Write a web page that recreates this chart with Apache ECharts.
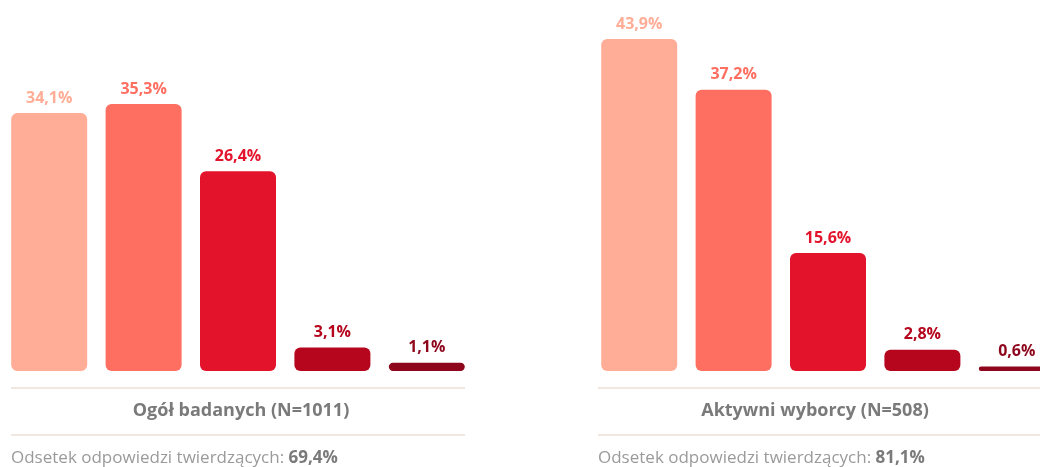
<!DOCTYPE html>
<html>
<head>
<meta charset="utf-8">
<script src="https://cdn.jsdelivr.net/npm/echarts@6/dist/echarts.min.js"></script>
<style>
  html, body { margin: 0; padding: 0; background: #ffffff; }
  #chart { width: 1040px; height: 467px; }
</style>
</head>
<body>
<div id="chart"></div>
<script>
// Answer scale (five steps), shared by both groups
const categories = ['k1', 'k2', 'k3', 'k4', 'k5'];
const overallValues = [34.1, 35.3, 26.4, 3.1, 1.1];
const activeValues = [43.9, 37.2, 15.6, 2.8, 0.6];
const barColors = ['#FFAD96', '#FF6F61', '#E3132B', '#B5061E', '#8E061C'];
const groupTitles = ['Ogół badanych (N=1011)', 'Aktywni wyborcy (N=508)'];
const footerLabel = 'Odsetek odpowiedzi twierdzących: ';
const footerValues = ['69,4%', '81,1%'];

const FONT = '"Open Sans", "Noto Sans", sans-serif';
const fmt = v => v.toFixed(1).replace('.', ',') + '%';

function seriesData(values) {
  return values.map((v, i) => ({
    value: v,
    itemStyle: { color: barColors[i] },
    label: { color: barColors[i] }
  }));
}

function barSeries(values, idx) {
  return {
    type: 'bar',
    xAxisIndex: idx,
    yAxisIndex: idx,
    barWidth: 76,
    data: seriesData(values),
    itemStyle: { borderRadius: 6 },
    label: {
      show: true,
      position: 'top',
      distance: 7,
      fontFamily: FONT,
      fontWeight: 'bold',
      fontSize: 16,
      formatter: p => fmt(p.value)
    },
    silent: true
  };
}

// The second panel runs past the right edge of the canvas
const grids = [
  { left: 2, width: 472, top: 8, height: 363, outerBoundsMode: 'none', containLabel: false },
  { left: 592, width: 472, top: 8, height: 363, outerBoundsMode: 'none', containLabel: false }
];

const xAxes = grids.map((g, i) => ({
  type: 'category',
  gridIndex: i,
  data: categories,
  axisLine: { show: false },
  axisTick: { show: false },
  axisLabel: { show: false }
}));

const yAxes = grids.map((g, i) => ({
  type: 'value',
  gridIndex: i,
  min: 0,
  max: 48,
  show: false,
  splitLine: { show: false }
}));

// Separator lines and captions under each panel
const panels = [
  { lineX1: 11, lineX2: 465, titleX: 241, footX: 11, footVal: footerValues[0], title: groupTitles[0] },
  { lineX1: 598, lineX2: 1040, titleX: 815, footX: 598, footVal: footerValues[1], title: groupTitles[1] }
];

const graphics = [];
panels.forEach(p => {
  [388, 435].forEach(y => {
    graphics.push({
      type: 'line',
      shape: { x1: p.lineX1, y1: y, x2: p.lineX2, y2: y },
      style: { stroke: '#EADFD6', lineWidth: 1.5 }
    });
  });
  graphics.push({
    type: 'text',
    x: p.titleX,
    y: 411,
    style: {
      text: p.title,
      fill: '#7A7A7A',
      font: 'bold 18px ' + FONT,
      align: 'center',
      verticalAlign: 'middle'
    }
  });
  graphics.push({
    type: 'text',
    x: p.footX,
    y: 458,
    style: {
      text: '{a|' + footerLabel + '}{b|' + p.footVal + '}',
      verticalAlign: 'middle',
      align: 'left',
      rich: {
        a: { fill: '#9A9A9A', font: '17px ' + FONT },
        b: { fill: '#7A7A7A', font: 'bold 17px ' + FONT }
      }
    }
  });
});

const chart = echarts.init(document.getElementById('chart'), null, { renderer: 'canvas' });
chart.setOption({
  animation: false,
  backgroundColor: '#ffffff',
  grid: grids,
  xAxis: xAxes,
  yAxis: yAxes,
  series: [barSeries(overallValues, 0), barSeries(activeValues, 1)],
  graphic: graphics
});
</script>
</body>
</html>
